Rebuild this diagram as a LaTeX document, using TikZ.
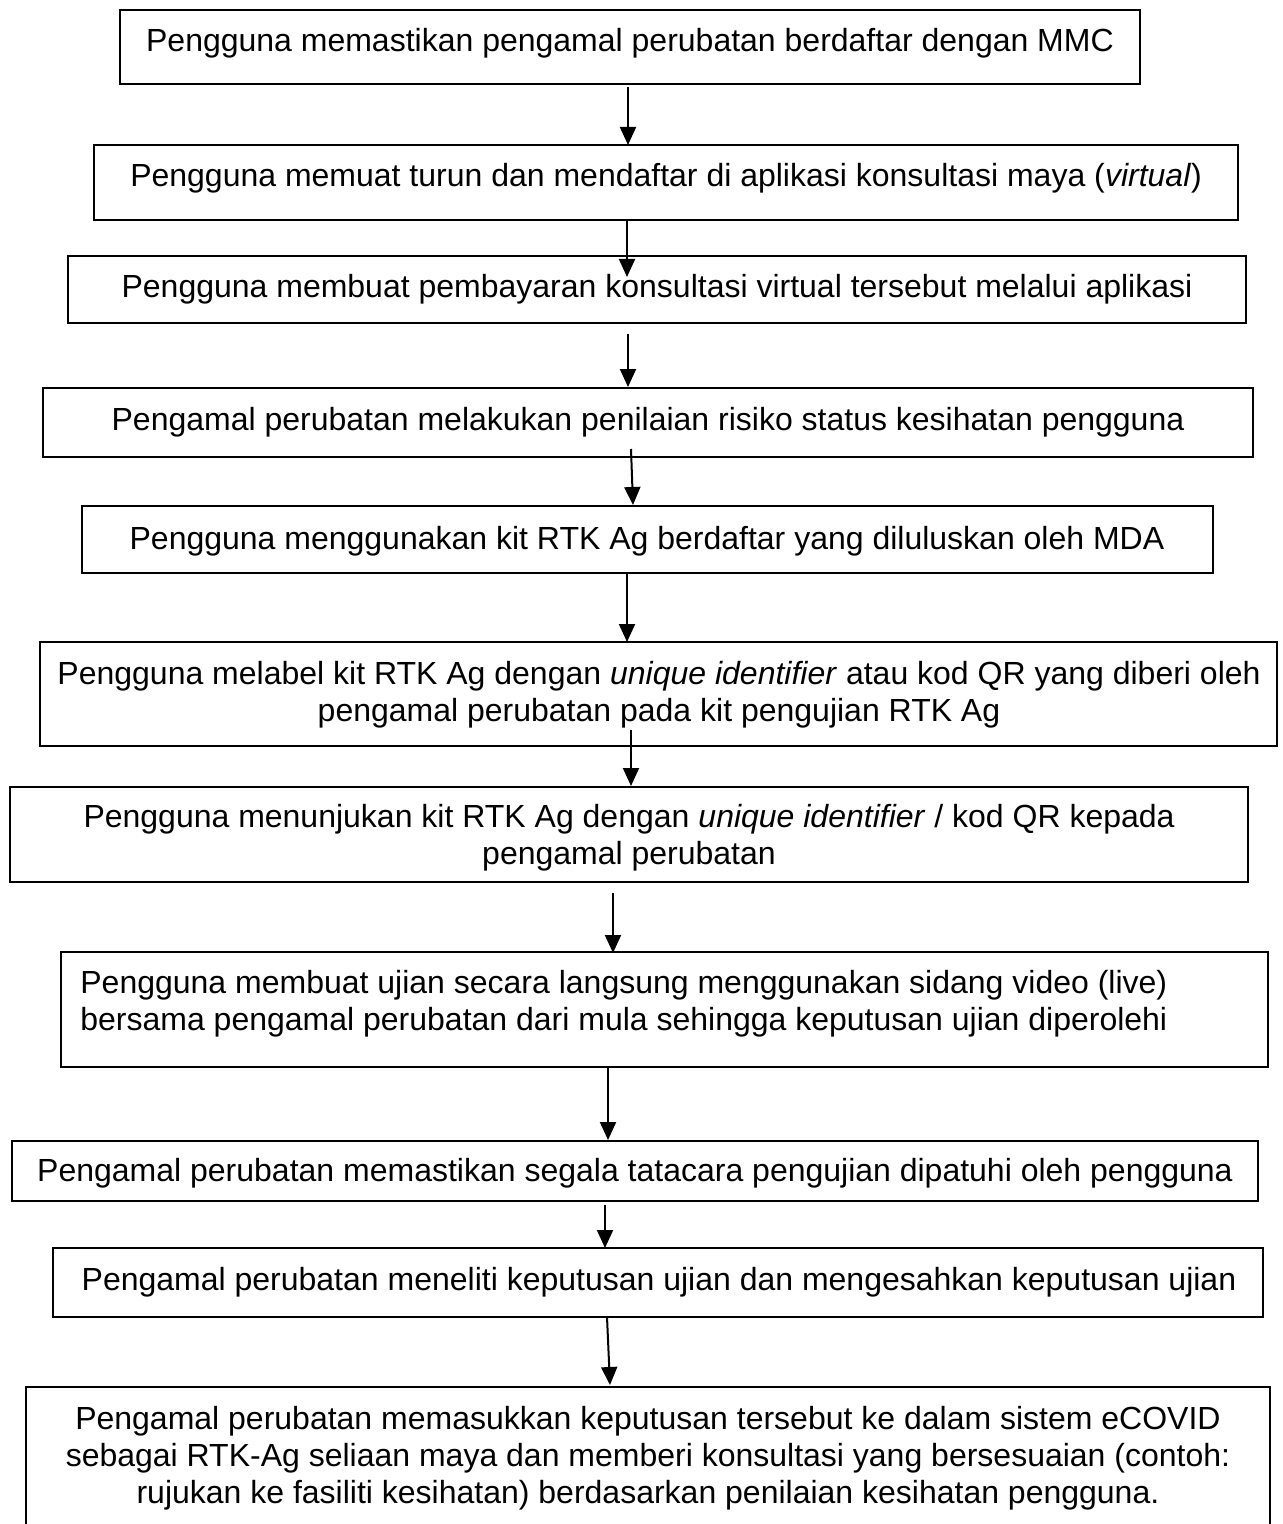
\documentclass[tikz,border=0pt]{standalone}
\usepackage{fontspec}
\setmainfont{Liberation Sans}
\usetikzlibrary{arrows.meta}
\tikzset{
  box/.style={draw=black, line width=0.75pt, rectangle, inner sep=0pt, fill=none},
  txt/.style={inner sep=0pt, anchor=base, font=\fontsize{16}{18.5}\selectfont},
  txtl/.style={inner sep=0pt, anchor=base west, font=\fontsize{16}{18.5}\selectfont},
  flow/.style={line width=1pt, -{Triangle[length=9pt,width=8pt]}}
}
\begin{document}
\begin{tikzpicture}[x=0.5pt,y=-0.5pt]
\useasboundingbox (0,0) rectangle (1282,1524);
\fill[white] (0,0) rectangle (1282,1524);
% boxes
\node[box, minimum width=510pt, minimum height=37pt] (b1) at (630,47) {};
\node[box, minimum width=572pt, minimum height=37.5pt] (b2) at (666,182.5) {};
\node[box, minimum width=589pt, minimum height=33.5pt] (b3) at (657,289.5) {};
\node[box, minimum width=605pt, minimum height=34.5pt] (b4) at (648,422.5) {};
\node[box, minimum width=565.5pt, minimum height=33.5pt] (b5) at (647.5,539.5) {};
\node[box, minimum width=618.5pt, minimum height=52pt] (b6) at (658.5,694) {};
\node[box, minimum width=619pt, minimum height=47.5pt] (b7) at (629,834.5) {};
\node[box, minimum width=603.5pt, minimum height=57.5pt] (b8) at (664.5,1009.5) {};
\node[box, minimum width=623pt, minimum height=30pt] (b9) at (635,1171) {};
\node[box, minimum width=605pt, minimum height=34.5pt] (b10) at (658,1282.5) {};
\node[box, minimum width=622pt, minimum height=76.5pt] (b11) at (648,1463.5) {};
% texts
\node[txt] (t1) at (630,52) {Pengguna memastikan pengamal perubatan berdaftar dengan MMC};
\node[txt] (t2) at (666,187) {Pengguna memuat turun dan mendaftar di aplikasi konsultasi maya (\textit{virtual})};
\node[txt] (t3) at (657,298) {Pengguna membuat pembayaran konsultasi virtual tersebut melalui aplikasi};
\node[txt] (t4) at (648,430) {Pengamal perubatan melakukan penilaian risiko status kesihatan pengguna};
\node[txt] (t5) at (647,549) {Pengguna menggunakan kit RTK Ag berdaftar yang diluluskan oleh MDA};
\node[txt] (t6) at (659,684) {\begin{tabular}[t]{@{}c@{}}Pengguna melabel kit RTK Ag dengan \textit{unique identifier} atau kod QR yang diberi oleh\\ pengamal perubatan pada kit pengujian RTK Ag\end{tabular}};
\node[txt] (t7) at (629,827) {\begin{tabular}[t]{@{}c@{}}Pengguna menunjukan kit RTK Ag dengan \textit{unique identifier} / kod QR kepada\\ pengamal perubatan\end{tabular}};
\node[txtl] (t8) at (80,993) {\begin{tabular}[t]{@{}l@{}}Pengguna membuat ujian secara langsung menggunakan sidang video (live)\\ bersama pengamal perubatan dari mula sehingga keputusan ujian diperolehi\end{tabular}};
\node[txt] (t9) at (635,1181) {Pengamal perubatan memastikan segala tatacara pengujian dipatuhi oleh pengguna};
\node[txt] (t10) at (659,1290) {Pengamal perubatan meneliti keputusan ujian dan mengesahkan keputusan ujian};
\node[txt] (t11) at (648,1429) {\begin{tabular}[t]{@{}c@{}}Pengamal perubatan memasukkan keputusan tersebut ke dalam sistem eCOVID\\ sebagai RTK-Ag seliaan maya dan memberi konsultasi yang bersesuaian (contoh:\\ rujukan ke fasiliti kesihatan) berdasarkan penilaian kesihatan pengguna.\end{tabular}};
% connector end points
\coordinate (c1a) at (628,87);   \coordinate (c1b) at (628,145);
\coordinate (c2a) at (627,220);  \coordinate (c2b) at (627,277);
\coordinate (c3a) at (628,334);  \coordinate (c3b) at (628,387);
\coordinate (c4a) at (631,449);  \coordinate (c4b) at (633,505);
\coordinate (c5a) at (627,573);  \coordinate (c5b) at (627,642);
\coordinate (c6a) at (631,730);  \coordinate (c6b) at (631,786);
\coordinate (c7a) at (613,893);  \coordinate (c7b) at (613,953);
\coordinate (c8a) at (608,1066); \coordinate (c8b) at (608,1140);
\coordinate (c9a) at (605,1205); \coordinate (c9b) at (605,1248);
\coordinate (c10a) at (607,1317); \coordinate (c10b) at (610,1385);
\foreach \i in {1,...,10} { \draw[flow] (c\i a) -- (c\i b); }
\end{tikzpicture}
\end{document}
